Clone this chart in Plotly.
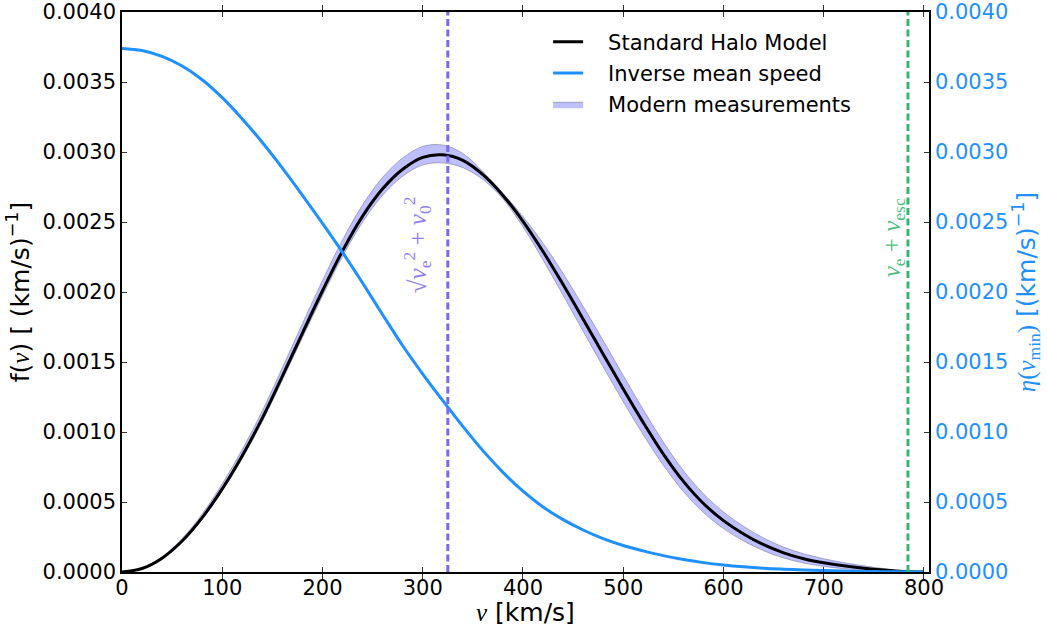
import plotly.graph_objects as go

# ---------------- data ----------------
v = [0, 20, 40, 60, 80, 100, 120, 140, 160, 180, 200, 220, 240, 260, 280, 300,
     320, 340, 360, 380, 400, 420, 440, 460, 480, 500, 520, 540, 560, 580, 600,
     620, 640, 660, 680, 700, 720, 740, 760, 780, 800]

# Standard Halo Model speed distribution f(v)  [(km/s)^-1]
f_shm = [0.000000, 0.000025, 0.000099, 0.000221, 0.000388, 0.000594, 0.000831,
         0.001099, 0.001399, 0.001707, 0.002009, 0.002294, 0.002542, 0.002737,
         0.002877, 0.002962, 0.002980, 0.002940, 0.002838, 0.002690, 0.002505,
         0.002289, 0.002053, 0.001806, 0.001556, 0.001307, 0.001067, 0.000842,
         0.000647, 0.000489, 0.000367, 0.000272, 0.000195, 0.000137, 0.000095,
         0.000066, 0.000044, 0.000027, 0.000014, 0.000004, 0.000000]

# Modern measurements band (upper / lower edge)
band_upper = [0.000000, 0.000028, 0.000109, 0.000239, 0.000415, 0.000630, 0.000876,
              0.001152, 0.001460, 0.001775, 0.002083, 0.002372, 0.002623, 0.002819,
              0.002958, 0.003040, 0.003050, 0.002990, 0.002860, 0.002705, 0.002540,
              0.002349, 0.002133, 0.001898, 0.001653, 0.001404, 0.001160, 0.000928,
              0.000725, 0.000559, 0.000429, 0.000327, 0.000243, 0.000178, 0.000130,
              0.000095, 0.000067, 0.000044, 0.000024, 0.000007, 0.000000]

band_lower = [0.000000, 0.000023, 0.000094, 0.000213, 0.000377, 0.000580, 0.000813,
              0.001076, 0.001371, 0.001674, 0.001972, 0.002254, 0.002499, 0.002691,
              0.002827, 0.002907, 0.002922, 0.002888, 0.002803, 0.002665, 0.002465,
              0.002229, 0.001977, 0.001720, 0.001465, 0.001216, 0.000980, 0.000762,
              0.000575, 0.000425, 0.000310, 0.000222, 0.000152, 0.000100, 0.000064,
              0.000040, 0.000023, 0.000012, 0.000005, 0.000001, 0.000000]

# Inverse mean speed eta(v_min)  [(km/s)^-1]  (right axis)
eta = [0.003740, 0.003725, 0.003683, 0.003614, 0.003516, 0.003388, 0.003236,
       0.003068, 0.002885, 0.002691, 0.002490, 0.002283, 0.002064, 0.001838,
       0.001616, 0.001414, 0.001224, 0.001040, 0.000867, 0.000712, 0.000577,
       0.000464, 0.000374, 0.000300, 0.000238, 0.000189, 0.000151, 0.000117,
       0.000089, 0.000067, 0.000050, 0.000037, 0.000027, 0.000020, 0.000014,
       0.000010, 0.000007, 0.000004, 0.000002, 0.000001, 0.000000]

x_ticks = [0, 100, 200, 300, 400, 500, 600, 700, 800]
y_ticks = [0.0, 0.0005, 0.0010, 0.0015, 0.0020, 0.0025, 0.0030, 0.0035, 0.0040]

v_sqrt_line = 325   # sqrt(ve^2 + v0^2)
v_esc_line = 784    # ve + vesc

# ---------------- styles ----------------
BLUE = "#1E90FF"
PURPLE = "#7B68EE"
GREEN = "#3CB371"
FONT = "DejaVu Sans"
MATH = "Liberation Serif"
FS = 21
TFS = 25
PAD = "\u00a0\u00a0\u00a0"   # gap between legend symbol and text

fig = go.Figure()

fig.add_trace(go.Scatter(
    x=v, y=band_lower, mode="lines", legendgroup="band", showlegend=False,
    line=dict(color="rgba(90,90,120,0.55)", width=0.8, shape="spline"),
    hoverinfo="skip"))
fig.add_trace(go.Scatter(
    x=v, y=band_upper, mode="lines", fill="tonexty", legendgroup="band",
    fillcolor="rgba(0,0,255,0.25)", name=PAD + "Modern measurements", legendrank=3,
    line=dict(color="rgba(90,90,120,0.55)", width=0.8, shape="spline")))
fig.add_trace(go.Scatter(
    x=v, y=f_shm, mode="lines", name=PAD + "Standard Halo Model", legendgroup="shm",
    legendrank=1, line=dict(color="black", width=3, shape="spline")))
fig.add_trace(go.Scatter(
    x=v, y=eta, mode="lines", name=PAD + "Inverse mean speed", yaxis="y2",
    legendgroup="eta", legendrank=2,
    line=dict(color=BLUE, width=3, shape="spline")))

for xv, col in [(v_sqrt_line, PURPLE), (v_esc_line, GREEN)]:
    fig.add_shape(type="line", xref="x", yref="paper", x0=xv, x1=xv, y0=0, y1=1,
                  line=dict(color=col, width=3, dash="7px,3.5px"), layer="above")

fig.add_annotation(
    x=v_sqrt_line - 30, y=0.00234, xref="x", yref="y", textangle=-90,
    showarrow=False, xanchor="center", yanchor="middle",
    text="√<i>v</i><sub>e</sub><sup>2</sup> + <i>v</i><sub>0</sub><sup>2</sup>",
    font=dict(family=MATH, size=25, color="#9080F0"))
fig.add_annotation(
    x=v_esc_line - 15, y=0.00239, xref="x", yref="y", textangle=-90,
    showarrow=False, xanchor="center", yanchor="middle",
    text="<i>v</i><sub>e</sub> + <i>v</i><sub>esc</sub>",
    font=dict(family=MATH, size=25, color="#50BF80"))

# x axis title placed as annotation for exact position
fig.add_annotation(
    x=0.5, y=-0.073, xref="paper", yref="paper", showarrow=False,
    xanchor="center", yanchor="middle",
    text="<span style=\"font-family:Liberation Serif\"><i>v</i></span> [km/s]",
    font=dict(size=TFS, family=FONT, color="black"))

axis_common = dict(showgrid=False, zeroline=False, showline=True,
                   linecolor="black", linewidth=1.5, ticks="inside",
                   ticklen=5, tickwidth=1, tickcolor="#333333")

fig.update_layout(
    width=1047, height=635,
    margin=dict(l=122, r=118, t=12, b=63, autoexpand=False),
    paper_bgcolor="white", plot_bgcolor="white",
    font=dict(family=FONT, size=FS, color="black"),
    showlegend=True,
    legend=dict(x=0.528, y=0.983, xanchor="left", yanchor="top",
                bgcolor="rgba(0,0,0,0)", font=dict(size=FS, family=FONT),
                tracegroupgap=1, traceorder="grouped"),
    xaxis=dict(range=[0, 805], tickvals=x_ticks, mirror="allticks",
               ticklabelstandoff=-4,
               tickfont=dict(size=FS), **axis_common),
    yaxis=dict(range=[0, 0.004], tickvals=y_ticks, tickformat=".4f",
               title=dict(text="f(<span style=\"font-family:Liberation Serif\"><i>v</i></span>) [ (km/s)<sup>−1</sup>]",
                          font=dict(size=TFS), standoff=6),
               tickfont=dict(size=FS), **axis_common),
    yaxis2=dict(range=[0, 0.004], tickvals=y_ticks, tickformat=".4f",
                overlaying="y", side="right",
                tickfont=dict(size=FS, color=BLUE),
                title=dict(text="<span style=\"font-family:Liberation Serif\"><i>η</i>(<i>v</i><sub>min</sub>)</span> [(km/s)<sup>−1</sup>]",
                           font=dict(size=TFS, color=BLUE), standoff=8),
                **axis_common),
)

fig.write_html("out.html")
